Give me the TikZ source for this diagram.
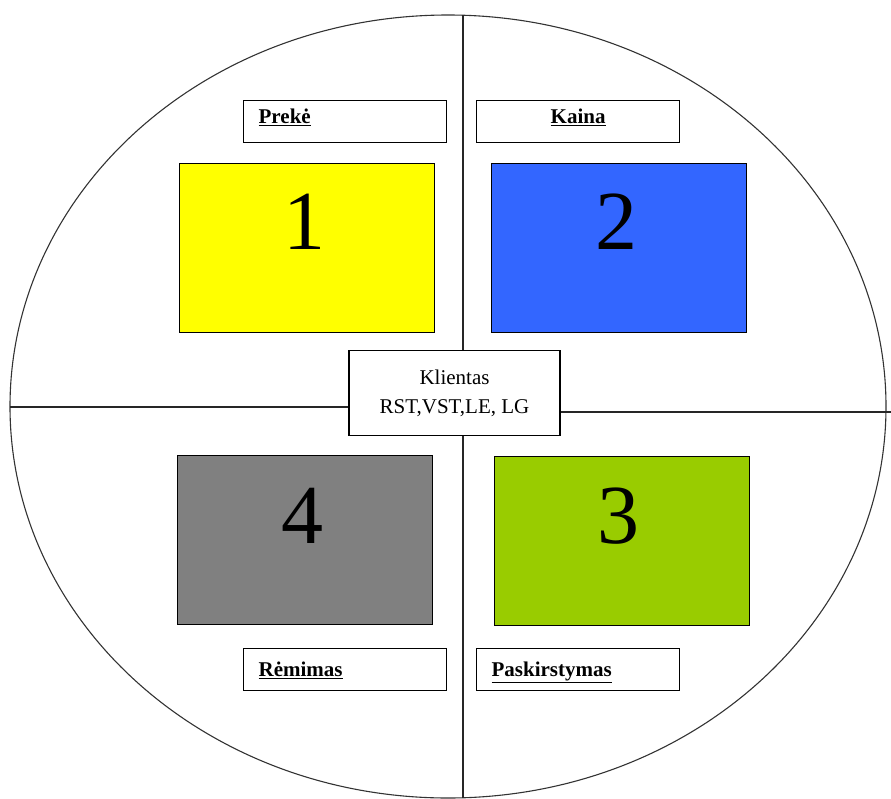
\documentclass[tikz,border=0pt]{standalone}
\usepackage{fontspec}
\setmainfont{Liberation Serif}
\definecolor{geltona}{HTML}{FFFF00}
\definecolor{melyna}{HTML}{3366FF}
\definecolor{pilka}{HTML}{808080}
\definecolor{zalia}{HTML}{99CC00}
\begin{document}
\begin{tikzpicture}[x=1pt,y=-1pt,
    langelis/.style={draw, line width=1.3pt, minimum width=255pt, minimum height=169pt, inner sep=0pt, anchor=north west},
    skaicius/.style={font=\fontsize{84}{84}\selectfont, anchor=base, inner sep=0pt},
    antraste/.style={draw, fill=white, line width=1.3pt, minimum height=42pt, text width=173pt, inner xsep=15pt, inner ysep=0pt, anchor=north west, font=\fontsize{21}{25}\selectfont\bfseries},
    virsuje/.style={text height=10pt, text depth=6pt},
    apacioje/.style={text height=14pt, text depth=0pt}]
    \useasboundingbox (0,0) rectangle (891,798);
    % ratas ir asys
    \draw[line width=1.1pt, black!80] (448,406.5) ellipse (438 and 391.5);
    \coordinate (virsus) at (463,15);
    \coordinate (apacia) at (463,798);
    \coordinate (kaire) at (10,407);
    \coordinate (desine) at (891,412);
    \node[draw, fill=white, line width=1.3pt, minimum width=211pt, minimum height=85pt, align=center,
          font=\fontsize{21}{29}\selectfont] (klientas) at (454.5,393) {Klientas\\RST,VST,LE, LG};
    \draw[line width=1.3pt, black!85] (virsus) -- (virsus |- klientas.north);
    \draw[line width=1.3pt, black!85] (apacia |- klientas.south) -- (apacia);
    \draw[line width=1.3pt, black!85] (kaire) -- (kaire -| klientas.west);
    \draw[line width=1.3pt, black!85] (klientas.east |- desine) -- (desine);
    % keturi langeliai
    \node[langelis, fill=geltona] (preke) at (179,163) {};
    \node[langelis, fill=melyna] (kaina) at (491,163) {};
    \node[langelis, fill=pilka] (remimas) at (177,455) {};
    \node[langelis, fill=zalia] (paskirstymas) at (494,456) {};
    \path (preke.north) ++(-3,86) node[skaicius] (n1) {1};
    \path (kaina.north) ++(-3,86) node[skaicius] (n2) {2};
    \path (paskirstymas.north) ++(-4,87) node[skaicius] (n3) {3};
    \path (remimas.north) ++(-3,88) node[skaicius] (n4) {4};
    % antrastes
    \node[antraste, virsuje, align=left] (prekeA) at (243,100) {\underline{Prekė}};
    \node[antraste, virsuje, align=center] (kainaA) at (476,100) {\underline{Kaina}};
    \node[antraste, apacioje, align=left] (remimasA) at (243,648) {\underline{Rėmimas}};
    \node[antraste, apacioje, align=left] (paskirstymasA) at (476,648) {\underline{Paskirstymas}};
\end{tikzpicture}
\end{document}
